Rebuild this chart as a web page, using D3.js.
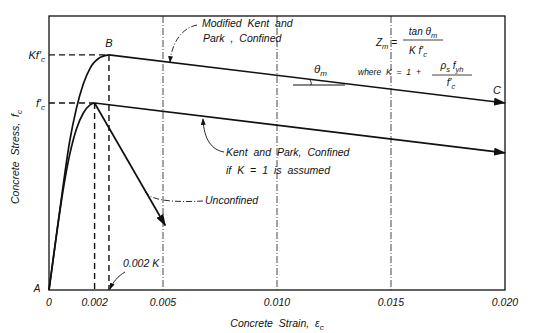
<!DOCTYPE html>
<html lang="en">
<head>
<meta charset="UTF-8">
<title>Concrete stress-strain</title>
<script src="https://cdn.jsdelivr.net/npm/d3@7"></script>
<style>
  body { margin: 0; background: #fff; }
  svg text { font-family: "Liberation Sans", "DejaVu Sans", sans-serif; font-style: italic; fill: #111; }
</style>
</head>
<body>
<div id="chart"></div>
<script>
// values (strain, stress / f'c)
const xTicks = [0, 0.002, 0.005, 0.010, 0.015, 0.020];
const xTickLabels = ["0", "0.002", "0.005", "0.010", "0.015", "0.020"];
const gridStrains = [0.005, 0.010, 0.015];
const K = 1.257;
const eps0 = 0.002;
const epsK = 0.00263;
const kpRise = [[0, 0], [0.0003, 0.27], [0.0006, 0.52], [0.0009, 0.72], [0.0012, 0.86], [0.0015, 0.945], [0.0018, 0.99], [0.002, 1]];
const confRise = [[0, 0], [0.0003, 0.27], [0.0006, 0.54], [0.0009, 0.79], [0.0012, 0.97], [0.0015, 1.1], [0.0018, 1.185], [0.0022, 1.24], [0.00263, 1.257]];
const confFall = [[0.00263, 1.257], [0.020, 1.0]];
const kpFall = [[0.002, 1], [0.020, 0.733]];
const unconfFall = [[0.002, 1], [0.0051, 0.345]];

const width = 536, height = 333;
const svg = d3.select("#chart").append("svg")
  .attr("width", width).attr("height", height);

const x = d3.scaleLinear().domain([0, 0.020]).range([49, 505]);
const y = d3.scaleLinear().domain([0, 1.465]).range([290, 16]);

const defs = svg.append("defs");
defs.append("marker").attr("id", "arrow")
  .attr("viewBox", "0 0 12 8").attr("refX", 11).attr("refY", 4)
  .attr("markerWidth", 12).attr("markerHeight", 8)
  .attr("markerUnits", "userSpaceOnUse").attr("orient", "auto")
  .append("path").attr("d", "M0,0 L12,4 L0,8 Z").attr("fill", "#111");
defs.append("marker").attr("id", "small")
  .attr("viewBox", "0 0 8 6").attr("refX", 7).attr("refY", 3)
  .attr("markerWidth", 7).attr("markerHeight", 5)
  .attr("markerUnits", "userSpaceOnUse").attr("orient", "auto")
  .append("path").attr("d", "M0,0 L8,3 L0,6 Z").attr("fill", "#111");

// grid lines
svg.append("g").selectAll("line").data(gridStrains).join("line")
  .attr("x1", d => x(d)).attr("x2", d => x(d))
  .attr("y1", y.range()[1]).attr("y2", y.range()[0])
  .attr("stroke", "#333").attr("stroke-width", 0.9)
  .attr("stroke-dasharray", "7,2,1,2");

// frame
svg.append("rect")
  .attr("x", x(0)).attr("y", y.range()[1])
  .attr("width", x(0.020) - x(0)).attr("height", y.range()[0] - y.range()[1])
  .attr("fill", "none").attr("stroke", "#111").attr("stroke-width", 1.3);

// dashed reference lines
const dash = svg.append("g").attr("stroke", "#111").attr("stroke-width", 1.4)
  .attr("stroke-dasharray", "6,4").attr("fill", "none");
[[eps0, 1], [epsK, K]].forEach(p => {
  dash.append("line").attr("x1", x(0)).attr("x2", x(p[0])).attr("y1", y(p[1])).attr("y2", y(p[1]));
  dash.append("line").attr("x1", x(p[0])).attr("x2", x(p[0])).attr("y1", y(p[1])).attr("y2", y(0));
});

// curves
const line = d3.line().x(d => x(d[0])).y(d => y(d[1]));
const smooth = d3.line().x(d => x(d[0])).y(d => y(d[1])).curve(d3.curveMonotoneX);
const curves = svg.append("g").attr("fill", "none").attr("stroke", "#111").attr("stroke-width", 1.7);
curves.append("path").attr("d", smooth(kpRise));
curves.append("path").attr("d", smooth(confRise));
curves.append("path").attr("d", line(confFall)).attr("marker-end", "url(#arrow)");
curves.append("path").attr("d", line(kpFall)).attr("marker-end", "url(#arrow)");
curves.append("path").attr("d", line(unconfFall)).attr("marker-end", "url(#arrow)");

// x tick labels
svg.append("g").selectAll("text").data(xTicks).join("text")
  .attr("x", d => x(d)).attr("y", 306)
  .attr("text-anchor", "middle").attr("font-size", 10.5)
  .text((d, i) => xTickLabels[i]);

// axis titles
const xt = svg.append("text").attr("x", 277).attr("y", 327)
  .attr("text-anchor", "middle").attr("font-size", 10.5).attr("word-spacing", 3);
xt.append("tspan").text("Concrete Strain, ε");
xt.append("tspan").attr("dy", 3).attr("font-size", 8).text("c");

const yt = svg.append("text").attr("transform", "translate(19,157) rotate(-90)")
  .attr("text-anchor", "middle").attr("font-size", 10.5).attr("word-spacing", 3);
yt.append("tspan").text("Concrete Stress, f");
yt.append("tspan").attr("dy", 3).attr("font-size", 8).text("c");

// y labels
function fcLabel(g, px, py, pre) {
  const t = g.append("text").attr("x", px).attr("y", py).attr("text-anchor", "end").attr("font-size", 11);
  t.append("tspan").text(pre + "f′");
  t.append("tspan").attr("dy", 3).attr("font-size", 8).text("c");
  return t;
}
fcLabel(svg, 45, y(K) + 4, "K");
fcLabel(svg, 45, y(1) + 4, "");

// point letters
svg.append("text").attr("x", 37).attr("y", 292).attr("font-size", 10).attr("text-anchor", "middle").text("A");
svg.append("text").attr("x", x(epsK)).attr("y", 47).attr("font-size", 11).attr("text-anchor", "middle").text("B");
svg.append("text").attr("x", 497).attr("y", 94).attr("font-size", 11).attr("text-anchor", "middle").text("C");

// annotations
const ann = svg.append("g").attr("fill", "none").attr("stroke", "#111").attr("stroke-width", 0.9);
ann.append("path").attr("d", "M197,25 C182,28 172,42 170,62")
  .attr("stroke-dasharray", "6,2,1,2").attr("marker-end", "url(#small)");
ann.append("path").attr("d", "M224,152 C212,150 204,140 203,119")
  .attr("marker-end", "url(#small)");
ann.append("path").attr("d", "M203,201 C185,202 160,202 150,196 L145,192")
  .attr("stroke-dasharray", "6,2,1,2");
ann.append("path").attr("d", "M125,272 C118,276 113,282 110,289")
  .attr("marker-end", "url(#small)");
// theta_m
ann.append("line").attr("x1", 293).attr("x2", 345).attr("y1", 85).attr("y2", 85).attr("stroke-width", 1.2);
ann.append("path").attr("d", "M310,80 Q312,83 311,85");

const lab = svg.append("g").attr("font-size", 10.5);
lab.append("text").attr("x", 202).attr("y", 27).attr("word-spacing", 3).text("Modified Kent and");
lab.append("text").attr("x", 203).attr("y", 42).attr("word-spacing", 3).text("Park , Confined");
lab.append("text").attr("x", 226).attr("y", 156).attr("word-spacing", 3).text("Kent and Park, Confined");
lab.append("text").attr("x", 226).attr("y", 174).attr("word-spacing", 3).text("if K = 1 is assumed");
lab.append("text").attr("x", 205).attr("y", 204).text("Unconfined");
lab.append("text").attr("x", 123).attr("y", 267).text("0.002 K");
const th = lab.append("text").attr("x", 314).attr("y", 73).attr("font-size", 11.5);
th.append("tspan").text("θ");
th.append("tspan").attr("dy", 3).attr("font-size", 8).text("m");

// formula
const fm = svg.append("g").attr("font-size", 10);
const z = fm.append("text").attr("x", 376).attr("y", 46);
z.append("tspan").text("Z");
z.append("tspan").attr("dy", 3).attr("font-size", 7.5).text("m");
z.append("tspan").attr("dy", -3).text(" =");
const num = fm.append("text").attr("x", 423).attr("y", 35).attr("text-anchor", "middle");
num.append("tspan").text("tan θ");
num.append("tspan").attr("dy", 3).attr("font-size", 7.5).text("m");
fm.append("line").attr("x1", 403).attr("x2", 443).attr("y1", 40).attr("y2", 40).attr("stroke", "#111").attr("stroke-width", 0.8);
const den = fm.append("text").attr("x", 418).attr("y", 54).attr("text-anchor", "middle");
den.append("tspan").text("K f′");
den.append("tspan").attr("dy", 3).attr("font-size", 7.5).text("c");

fm.append("text").attr("x", 358).attr("y", 75).attr("font-size", 8.5).attr("word-spacing", 2.5).text("where K = 1 +");
const n2 = fm.append("text").attr("x", 452).attr("y", 69).attr("text-anchor", "middle");
n2.append("tspan").text("ρ");
n2.append("tspan").attr("dy", 3).attr("font-size", 7.5).text("s");
n2.append("tspan").attr("dy", -3).text(" f");
n2.append("tspan").attr("dy", 3).attr("font-size", 7.5).text("yh");
fm.append("line").attr("x1", 432).attr("x2", 472).attr("y1", 75).attr("y2", 75).attr("stroke", "#111").attr("stroke-width", 0.8);
const d2 = fm.append("text").attr("x", 451).attr("y", 86).attr("text-anchor", "middle");
d2.append("tspan").text("f′");
d2.append("tspan").attr("dy", 3).attr("font-size", 7.5).text("c");
</script>
</body>
</html>
